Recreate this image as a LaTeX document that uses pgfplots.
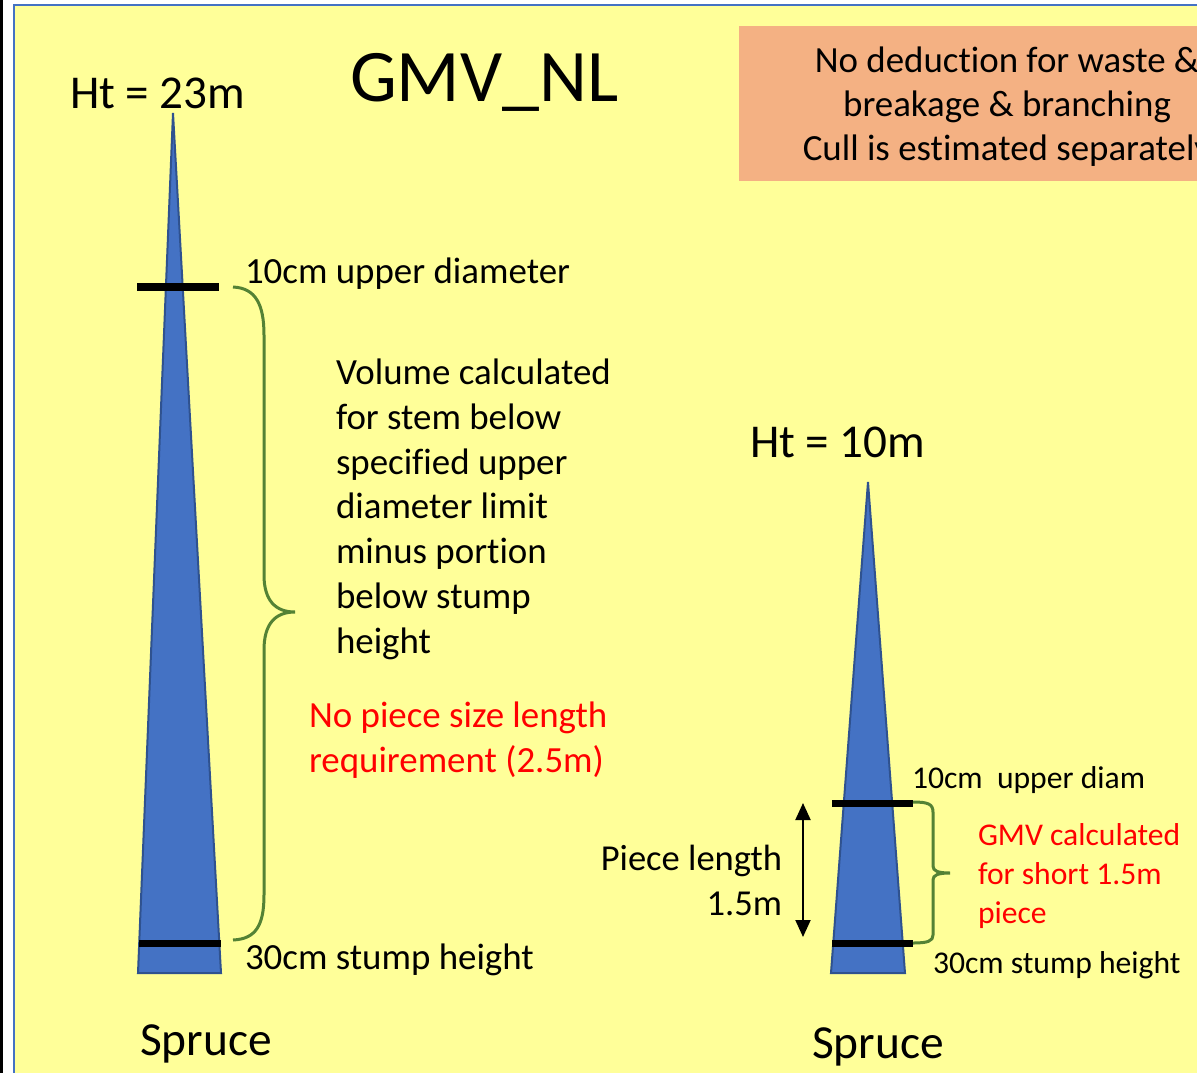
\documentclass[border=0pt]{standalone}
\usepackage{fontspec}
\setmainfont{Carlito}[RawFeature={-liga;-clig;-calt;-dlig}]
\usepackage{pgfplots}
\pgfplotsset{compat=1.18}
\usetikzlibrary{arrows.meta}

\definecolor{panel}{HTML}{FFFF99}
\definecolor{frame}{HTML}{4472C4}
\definecolor{boxorange}{HTML}{F4B183}
\definecolor{trunk}{HTML}{4472C4}
\definecolor{trunkedge}{HTML}{2F528F}
\definecolor{brace}{HTML}{548235}

\begin{document}
\begin{tikzpicture}[lbl/.style={inner sep=0pt, outer sep=0pt, anchor=base west}]
\path[use as bounding box, clip] (0,0) rectangle (11.97cm,10.73cm);
\begin{axis}[
  scale only axis, width=11.97cm, height=10.73cm,
  xmin=0, xmax=1197, ymin=0, ymax=1073, y dir=reverse,
  hide axis, clip=false
]
% slide background and frame
\fill[white] (axis cs:0,0) rectangle (axis cs:1210,1080);
\draw[black, line width=0.3mm] (axis cs:1.5,0) -- (axis cs:1.5,1080);
\fill[panel] (axis cs:14,5) rectangle (axis cs:1210,1080);
\draw[frame, line width=0.2mm] (axis cs:14,1080) -- (axis cs:14,5) -- (axis cs:1210,5);
\fill[boxorange] (axis cs:739,26) rectangle (axis cs:1210,181);

% left tree, 23 m
\addplot[fill=trunk, draw=trunkedge, line width=0.2mm] coordinates {(173,113) (221,973) (138,973)} -- cycle;
\addplot[black, line width=0.8mm] coordinates {(137,287) (219,287)};
\addplot[black, line width=0.7mm] coordinates {(139,943) (221,943)};

% right tree, 10 m
\addplot[fill=trunk, draw=trunkedge, line width=0.2mm] coordinates {(868,482) (905,973) (831,973)} -- cycle;
\addplot[black, line width=0.7mm] coordinates {(832,803) (913,803)};
\addplot[black, line width=0.7mm] coordinates {(832,943) (913,943)};

% braces
\draw[brace, line width=0.3mm] (axis cs:233,287) .. controls (axis cs:256,288) and (axis cs:264,305) .. (axis cs:264,335)
  -- (axis cs:264,575) .. controls (axis cs:264,600) and (axis cs:275,612) .. (axis cs:295,612)
  .. controls (axis cs:275,612) and (axis cs:264,624) .. (axis cs:264,650)
  -- (axis cs:264,895) .. controls (axis cs:264,925) and (axis cs:256,939) .. (axis cs:233,940);
\draw[brace, line width=0.3mm] (axis cs:913,802) .. controls (axis cs:928,802) and (axis cs:933,804) .. (axis cs:933,812)
  -- (axis cs:933,866) .. controls (axis cs:933,871) and (axis cs:938,873) .. (axis cs:950,873)
  .. controls (axis cs:938,873) and (axis cs:933,875) .. (axis cs:933,880)
  -- (axis cs:933,935) .. controls (axis cs:933,941) and (axis cs:928,943) .. (axis cs:913,943);
\draw[black, line width=0.2mm, {Triangle[length=1.7mm,width=1.5mm]}-{Triangle[length=1.7mm,width=1.5mm]}] (axis cs:803,803) -- (axis cs:803,937);

% titles and labels
\node[lbl, font=\fontsize{13.4}{16}\selectfont] at (axis cs:70,108) {Ht = 23m};
\node[lbl, font=\fontsize{21.1}{25}\selectfont] at (axis cs:350,101) {GMV\_NL};
\node[lbl, anchor=base, font=\fontsize{10.5}{12.8}\selectfont] at (axis cs:1007,72) {No deduction for waste \&};
\node[lbl, anchor=base, font=\fontsize{10.5}{12.8}\selectfont] at (axis cs:1007,116) {breakage \& branching};
\node[lbl, anchor=base, font=\fontsize{10.5}{12.8}\selectfont] at (axis cs:1007,160) {Cull is estimated separately};

\node[lbl, font=\fontsize{10.5}{12.8}\selectfont] at (axis cs:245,283) {10cm upper diameter};
\node[lbl, font=\fontsize{10.5}{12.8}\selectfont] at (axis cs:336,384) {Volume calculated};
\node[lbl, font=\fontsize{10.5}{12.8}\selectfont] at (axis cs:336,429) {for stem below};
\node[lbl, font=\fontsize{10.5}{12.8}\selectfont] at (axis cs:336,474) {specified upper};
\node[lbl, font=\fontsize{10.5}{12.8}\selectfont] at (axis cs:336,518) {diameter limit};
\node[lbl, font=\fontsize{10.5}{12.8}\selectfont] at (axis cs:336,563) {minus portion};
\node[lbl, font=\fontsize{10.5}{12.8}\selectfont] at (axis cs:336,608) {below stump};
\node[lbl, font=\fontsize{10.5}{12.8}\selectfont] at (axis cs:336,653) {height};
\node[lbl, text=red, font=\fontsize{10.5}{12.8}\selectfont] at (axis cs:309,727) {No piece size length};
\node[lbl, text=red, font=\fontsize{10.5}{12.8}\selectfont] at (axis cs:309,772) {requirement (2.5m)};
\node[lbl, font=\fontsize{10.5}{12.8}\selectfont] at (axis cs:245,969) {30cm stump height};
\node[lbl, font=\fontsize{13.5}{16}\selectfont] at (axis cs:140,1055) {Spruce};

\node[lbl, font=\fontsize{13.4}{16}\selectfont] at (axis cs:750,457) {Ht = 10m};
\node[lbl, font=\fontsize{9}{11}\selectfont] at (axis cs:912,788) {10cm\ \ upper diam};
\node[lbl, text=red, font=\fontsize{9}{11}\selectfont] at (axis cs:978,845) {GMV calculated};
\node[lbl, text=red, font=\fontsize{9}{11}\selectfont] at (axis cs:978,884) {for short 1.5m};
\node[lbl, text=red, font=\fontsize{9}{11}\selectfont] at (axis cs:978,923) {piece};
\node[lbl, anchor=base east, font=\fontsize{10.4}{12.8}\selectfont] at (axis cs:782,870) {Piece length};
\node[lbl, anchor=base east, font=\fontsize{10.4}{12.8}\selectfont] at (axis cs:782,915) {1.5m};
\node[lbl, font=\fontsize{9}{11}\selectfont] at (axis cs:933,973) {30cm stump height};
\node[lbl, font=\fontsize{13.5}{16}\selectfont] at (axis cs:812,1058) {Spruce};
\end{axis}
\end{tikzpicture}
\end{document}
